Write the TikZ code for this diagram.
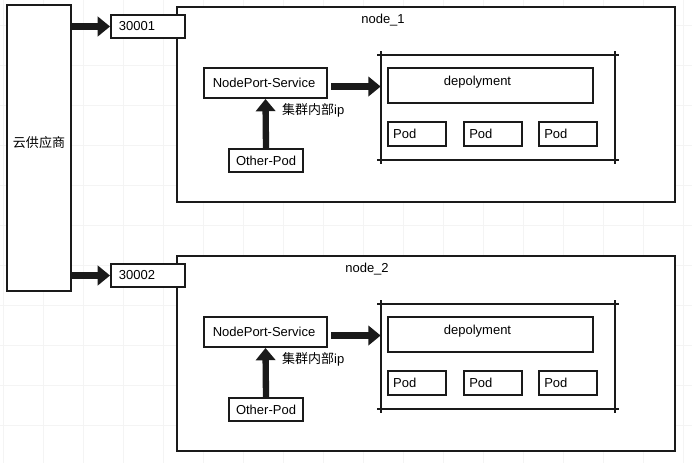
\documentclass[tikz,border=0pt]{standalone}
\usepackage{fontspec}
\setmainfont{Liberation Sans}
\newfontfamily\cjk{Noto Sans CJK SC}
\usetikzlibrary{arrows.meta,fit}
\definecolor{ink}{HTML}{1A1A1A}
\definecolor{paper}{HTML}{F4F4F4}

\begin{document}
\begin{tikzpicture}[x=0.02cm,y=-0.02cm,font=\fontsize{7.4}{9}\selectfont,
  box/.style={draw=ink,line width=1.1pt,fill=white,inner sep=0pt},
  fat/.style={ink,line width=3.6pt,-{Triangle[length=7pt,width=11pt]}},
  sketch/.style={ink,line width=1.1pt,shorten <=-2pt,shorten >=-2pt}]
  \useasboundingbox (0,0) rectangle (692,463);
  \foreach \gx in {3,43,...,683} \draw[paper,line width=.5pt] (\gx,0) -- (\gx,463);
  \foreach \gy in {25,65,...,463} \draw[paper,line width=.5pt] (0,\gy) -- (692,\gy);

  \node[box,fit={(7,5) (71,291)},label={[yshift=3pt]center:{\cjk 云供应商}}] (cloud) {};

  \foreach \i/\dy/\lx/\pnum in {1/0/383/30001,2/249/367/30002} {
    \node[box,fit={(177,7+\dy) (675,202+\dy)}] (node\i) {};
    \node (title\i) at (\lx,20+\dy) {node\_\i};
    \node[box,fit={(111,15+\dy) (185,38+\dy)},label={[anchor=west,xshift=1.5pt]west:\pnum}] (port\i) {};
    \draw[fat] (port\i.west -| cloud.east) -- (port\i.west);

    \node[box,fit={(204,68+\dy) (327,98+\dy)},label={[anchor=west,xshift=2pt]west:NodePort-Service}] (svc\i) {};
    \node[box,fit={(229,149+\dy) (303,172+\dy)},label=center:Other-Pod] (other\i) {};
    \draw[fat] (other\i.north) -- (svc\i.south);
    \node[anchor=west] (ipnote\i) at (276,110+\dy) {{\cjk 集群内部}ip};

    \node[fit={(381,55+\dy) (615,160+\dy)},inner sep=0pt] (dep\i) {};
    \foreach \a/\b in {north west/north east,south west/south east,north west/south west,north east/south east}
      \draw[sketch] (dep\i.\a) -- (dep\i.\b);
    \node[box,fit={(388,68+\dy) (593,103+\dy)},label={[anchor=north,xshift=-7.4pt,yshift=-1.8pt]north:depolyment}] (deploy\i) {};
    \foreach \j/\px in {1/388,2/464,3/539}
      \node[box,fit={(\px,122+\dy) (\px+58,146+\dy)},label={[anchor=west]west:Pod}] (pod\i\j) {};
    \draw[fat,shorten <=2pt] ([yshift=-2pt]svc\i.east) -- ([yshift=-2pt]svc\i.east -| dep\i.west);
  }
\end{tikzpicture}
\end{document}
